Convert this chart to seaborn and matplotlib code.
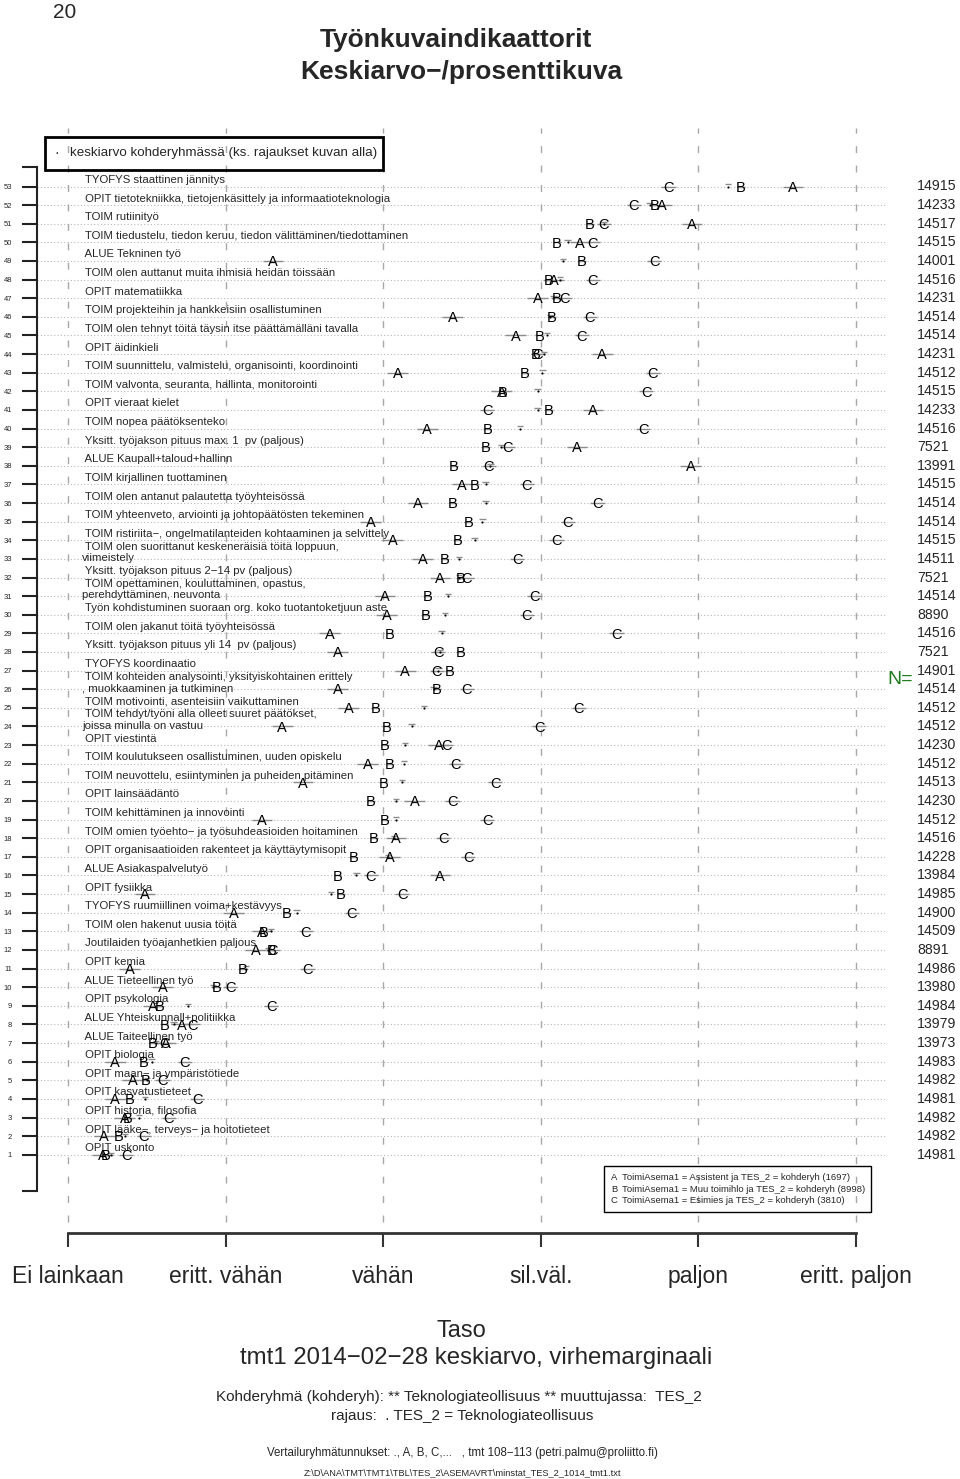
import numpy as np
import pandas as pd
import matplotlib
matplotlib.use("Agg")
import matplotlib.pyplot as plt
import seaborn as sns
from matplotlib.patches import Rectangle

# ---------------- data (rows listed top to bottom: 53 ... 1) ----------------
labels = [
    " TYOFYS staattinen jännitys",
    " OPIT tietotekniikka, tietojenkäsittely ja informaatioteknologia",
    " TOIM rutiinityö",
    " TOIM tiedustelu, tiedon keruu, tiedon välittäminen/tiedottaminen",
    " ALUE Tekninen työ",
    " TOIM olen auttanut muita ihmisiä heidän töissään",
    " OPIT matematiikka",
    " TOIM projekteihin ja hankkeisiin osallistuminen",
    " TOIM olen tehnyt töitä täysin itse päättämälläni tavalla",
    " OPIT äidinkieli",
    " TOIM suunnittelu, valmistelu, organisointi, koordinointi",
    " TOIM valvonta, seuranta, hallinta, monitorointi",
    " OPIT vieraat kielet",
    " TOIM nopea päätöksenteko",
    " Yksitt. työjakson pituus max. 1  pv (paljous)",
    " ALUE Kaupall+taloud+hallinn",
    " TOIM kirjallinen tuottaminen",
    " TOIM olen antanut palautetta työyhteisössä",
    " TOIM yhteenveto, arviointi ja johtopäätösten tekeminen",
    " TOIM ristiriita−, ongelmatilanteiden kohtaaminen ja selvittely",
    " TOIM olen suorittanut keskeneräisiä töitä loppuun,\nviimeistely",
    " Yksitt. työjakson pituus 2−14 pv (paljous)",
    " TOIM opettaminen, kouluttaminen, opastus,\nperehdyttäminen, neuvonta",
    " Työn kohdistuminen suoraan org. koko tuotantoketjuun aste",
    " TOIM olen jakanut töitä työyhteisössä",
    " Yksitt. työjakson pituus yli 14  pv (paljous)",
    " TYOFYS koordinaatio",
    " TOIM kohteiden analysointi, yksityiskohtainen erittely\n, muokkaaminen ja tutkiminen",
    " TOIM motivointi, asenteisiin vaikuttaminen",
    " TOIM tehdyt/työni alla olleet suuret päätökset,\njoissa minulla on vastuu",
    " OPIT viestintä",
    " TOIM koulutukseen osallistuminen, uuden opiskelu",
    " TOIM neuvottelu, esiintyminen ja puheiden pitäminen",
    " OPIT lainsäädäntö",
    " TOIM kehittäminen ja innovointi",
    " TOIM omien työehto− ja työsuhdeasioiden hoitaminen",
    " OPIT organisaatioiden rakenteet ja käyttäytymisopit",
    " ALUE Asiakaspalvelutyö",
    " OPIT fysiikka",
    " TYOFYS ruumiillinen voima+kestävyys",
    " TOIM olen hakenut uusia töitä",
    " Joutilaiden työajanhetkien paljous",
    " OPIT kemia",
    " ALUE Tieteellinen työ",
    " OPIT psykologia",
    " ALUE Yhteiskunnall+politiikka",
    " ALUE Taiteellinen työ",
    " OPIT biologia",
    " OPIT maan− ja ympäristötiede",
    " OPIT kasvatustieteet",
    " OPIT historia, filosofia",
    " OPIT lääke−, terveys− ja hoitotieteet",
    " OPIT uskonto",
]

n_values = [14915, 14233, 14517, 14515, 14001, 14516, 14231, 14514, 14514, 14231,
            14512, 14515, 14233, 14516, 7521, 13991, 14515, 14514, 14514, 14515,
            14511, 7521, 14514, 8890, 14516, 7521, 14901, 14514, 14512, 14512,
            14230, 14512, 14513, 14230, 14512, 14516, 14228, 13984, 14985, 14900,
            14509, 8891, 14986, 13980, 14984, 13979, 13973, 14983, 14982, 14981,
            14982, 14982, 14981]

mean_A = [5.60, 4.77, 4.96, 4.25, 2.30, 4.08, 3.98, 3.44, 3.84, 4.39,
          3.09, 3.75, 4.33, 3.28, 4.23, 4.95, 3.50, 3.22, 2.92, 3.06,
          3.25, 3.36, 3.01, 3.02, 2.66, 2.71, 3.14, 2.71, 2.78, 2.36,
          3.35, 2.90, 2.49, 3.20, 2.23, 3.08, 3.04, 3.36, 1.49, 2.05,
          2.23, 2.19, 1.39, 1.60, 1.54, 1.72, 1.62, 1.30, 1.41, 1.30,
          1.36, 1.23, 1.22]
mean_B = [5.27, 4.72, 4.31, 4.10, 4.26, 4.05, 4.10, 4.07, 3.99, 3.97,
          3.90, 3.76, 4.05, 3.66, 3.65, 3.45, 3.58, 3.44, 3.54, 3.47,
          3.39, 3.49, 3.28, 3.27, 3.04, 3.49, 3.42, 3.34, 2.95, 3.02,
          3.01, 3.04, 3.00, 2.92, 3.01, 2.94, 2.81, 2.71, 2.73, 2.39,
          2.24, 2.29, 2.11, 1.94, 1.58, 1.61, 1.54, 1.48, 1.49, 1.39,
          1.38, 1.32, 1.24]
mean_C = [4.81, 4.59, 4.40, 4.33, 4.72, 4.33, 4.15, 4.31, 4.26, 3.98,
          4.71, 4.67, 3.66, 4.65, 3.79, 3.67, 3.91, 4.36, 4.17, 4.10,
          3.85, 3.53, 3.96, 3.91, 4.48, 3.35, 3.34, 3.53, 4.24, 3.99,
          3.40, 3.46, 3.71, 3.44, 3.66, 3.38, 3.54, 2.92, 3.12, 2.80,
          2.51, 2.30, 2.52, 2.03, 2.29, 1.79, 1.61, 1.74, 1.60, 1.82,
          1.64, 1.48, 1.37]
mean_total = [5.19, 4.69, 4.40, 4.17, 4.14, 4.12, 4.08, 4.06, 4.04, 4.02,
              4.01, 3.98, 3.98, 3.87, 3.75, 3.68, 3.65, 3.65, 3.63, 3.58,
              3.48, 3.48, 3.41, 3.39, 3.37, 3.36, 3.35, 3.32, 3.26, 3.18,
              3.14, 3.13, 3.12, 3.08, 3.08, 3.07, 3.03, 2.83, 2.67, 2.45,
              2.29, 2.27, 2.13, 1.92, 1.76, 1.67, 1.56, 1.53, 1.50, 1.49,
              1.45, 1.36, 1.27]

ci_half = {"A": 0.065, "B": 0.025, "C": 0.045, "total": 0.02}

levels = ["Ei lainkaan", "eritt. vähän", "vähän", "sil.väl.", "paljon", "eritt. paljon"]

legend_codes = ["A", "B", "C"]
legend_texts = ["ToimiAsema1 = Assistent ja TES_2 = kohderyh (1697)",
                "ToimiAsema1 = Muu toimihlo ja TES_2 = kohderyh (8998)",
                "ToimiAsema1 = Esimies ja TES_2 = kohderyh (3810)"]

# ---------------- style ----------------
sns.set_theme(style="white")
plt.rcParams['font.family'] = ['Liberation Sans', 'DejaVu Sans']

W, H = 960, 1479
fig = plt.figure(figsize=(W / 100, H / 100), dpi=100)

# pixel helpers (layout only)
X0, XS = 68.0, 157.6      # pixel of value 1, pixels per unit
Y53, YS = 186.5, 18.62    # pixel of row 53, pixels per row
def vx(px):
    return 1 + (px - X0) / XS
def ry(py):
    return 53 - (py - Y53) / YS

ax_left, ax_right, ax_top, ax_bot = 37, 887, 128, 1233
ax = fig.add_axes([ax_left / W, 1 - ax_bot / H, (ax_right - ax_left) / W, (ax_bot - ax_top) / H])
ax.set_xlim(vx(ax_left), vx(ax_right))
ax.set_ylim(ry(ax_bot), ry(ax_top))

nrow = len(labels)
rows = np.arange(nrow, 0, -1)

df = pd.DataFrame({"row": np.tile(rows, 4),
                   "value": np.concatenate([mean_A, mean_B, mean_C, mean_total]),
                   "group": np.repeat(["A", "B", "C", "total"], nrow)})

# grid lines
ax.hlines(rows, vx(ax_left), vx(ax_right), colors="#b8b8b8", linestyles=(0, (1, 2)), lw=0.8, zorder=1)
ax.vlines(np.arange(1, 7), ry(1222), ry(ax_top), colors="#a8a8a8", linestyles=(0, (5, 9)), lw=1.0, zorder=1)

# error bars
for g, sub in df.groupby("group"):
    h = ci_half[g]
    yoff = 0.12 if g == "total" else 0.0
    ax.hlines(sub["row"] + yoff, sub["value"] - h, sub["value"] + h, colors="#8c8c8c", lw=1.0, zorder=2)

# total-group mean dots
sns.scatterplot(data=df[df.group == "total"], x="value", y="row", ax=ax, s=2, color="black",
                edgecolor=None, legend=False, zorder=3)

# group letters
for g in ["A", "B", "C"]:
    sub = df[df.group == g]
    for v, r in zip(sub["value"], sub["row"]):
        ax.text(v, r - 0.28, g, ha="center", va="baseline", fontsize=10.5, color="black", zorder=4)

# row labels
for lab, r in zip(labels, rows):
    ax.text(vx(82), r + 0.35, lab, ha="left", va="center", fontsize=8.2, linespacing=1.2, zorder=3)

# N column
for n, r in zip(n_values, rows):
    ax.text(vx(917), r, str(n), ha="left", va="center", fontsize=10.2, clip_on=False)
ax.text(vx(887), ry(680), "N=", ha="left", va="center", fontsize=14, color="#1e7b1e", clip_on=False)

# axes
for s in ["top", "right"]:
    ax.spines[s].set_visible(False)
ax.spines["left"].set_bounds(ry(1191), ry(167))
ax.spines["left"].set_linewidth(1.5)
ax.spines["left"].set_color("#222222")
ax.spines["bottom"].set_bounds(1, 6)
ax.spines["bottom"].set_linewidth(2.0)
ax.spines["bottom"].set_color("#333333")

yt = [ry(1191)] + list(rows[::-1]) + [ry(167)]
ax.set_yticks(yt)
ax.set_yticklabels([""] + [str(r) for r in rows[::-1]] + [""])
ax.tick_params(axis="y", left=True, length=11, width=1.5, color="#222222", labelsize=5.5, pad=7)
ax.set_xticks(np.arange(1, 7))
ax.set_xticklabels(levels)
ax.tick_params(axis="x", bottom=True, length=10, width=1.5, color="#333333", labelsize=16.5, pad=13)
ax.set_xlabel("")
ax.set_ylabel("")

# top legend box
ax.add_patch(Rectangle((vx(45), ry(170)), vx(383) - vx(45), ry(137) - ry(170), fill=False,
                       lw=2, ec="black", clip_on=False, zorder=5))
ax.text(vx(57), ry(153), "·", ha="center", va="center", fontsize=10)
ax.text(vx(70), ry(153), "keskiarvo kohderyhmässä (ks. rajaukset kuvan alla)", ha="left", va="center",
        fontsize=9.6)

# bottom legend box
ax.add_patch(Rectangle((vx(604), ry(1212)), vx(871) - vx(604), ry(1166) - ry(1212), fill=False,
                       lw=1, ec="black", clip_on=False, zorder=5))
for i, (c, t) in enumerate(zip(legend_codes, legend_texts)):
    yy = ry(1178 + 11.2 * i)
    ax.text(vx(611), yy, c, ha="left", va="center", fontsize=6.8)
    ax.text(vx(622), yy, t, ha="left", va="center", fontsize=6.8)

# figure texts
def ftext(px, py, s, **kw):
    fig.text(px / W, 1 - py / H, s, ha="center", va="center", **kw)

ftext(65, 12, "20", fontsize=15)
ftext(456, 40, "Työnkuvaindikaattorit", fontsize=19, fontweight="bold")
ftext(461, 72, "Keskiarvo−/prosenttikuva", fontsize=19, fontweight="bold")
ftext(461, 1331, "Taso", fontsize=17)
ftext(476, 1358, "tmt1 2014−02−28 keskiarvo, virhemarginaali", fontsize=17.3)
ftext(459, 1397, "Kohderyhmä (kohderyh): ** Teknologiateollisuus ** muuttujassa:  TES_2", fontsize=11)
ftext(462, 1416, "rajaus:  . TES_2 = Teknologiateollisuus", fontsize=11)
ftext(462, 1453, "Vertailuryhmätunnukset: ., A, B, C,...   , tmt 108−113 (petri.palmu@proliitto.fi)", fontsize=8.3)
ftext(462, 1473, "Z:\\D\\ANA\\TMT\\TMT1\\TBL\\TES_2\\ASEMAVRT\\minstat_TES_2_1014_tmt1.txt", fontsize=6.7)

fig.savefig("out.png", dpi=100)
